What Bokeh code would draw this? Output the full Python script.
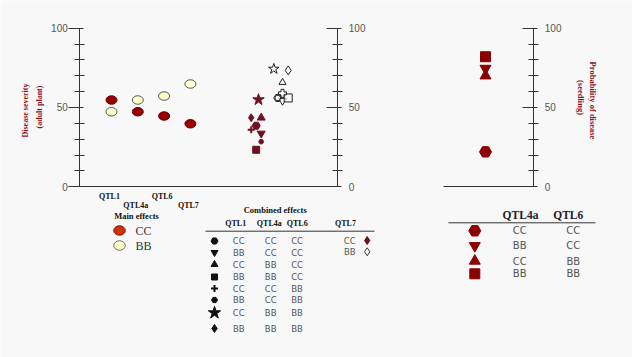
import math
from bokeh.plotting import figure
from bokeh.models import Range1d, LinearAxis, FixedTicker
from bokeh.embed import file_html
from bokeh.resources import INLINE
from bokeh.core.properties import value

# ---------------- data ----------------
main_qtl = ["QTL1", "QTL4a", "QTL6", "QTL7"]
main_cc = [54.7, 47.3, 44.6, 39.7]
main_bb = [47.3, 54.7, 57.2, 64.8]
genotypes = ["CC", "BB"]

comb_markers = ["hex", "inverted_triangle", "triangle", "square", "cross", "hex", "star", "diamond"]
comb_qtl1 = ["CC", "BB", "CC", "BB", "CC", "BB", "CC", "BB"]
comb_qtl4a = ["CC", "CC", "BB", "BB", "CC", "CC", "BB", "BB"]
comb_qtl6 = ["CC", "CC", "CC", "CC", "BB", "BB", "BB", "BB"]
comb_qtl7_cc = [38.5, 33.6, 43.5, 23.3, 36.0, 28.4, 54.9, 43.5]
comb_qtl7_bb = [56.0, 54.3, 65.8, 56.0, 58.9, 56.0, 74.3, 73.4]
comb_headers = ["QTL1", "QTL4a", "QTL6", "QTL7"]

seed_markers = ["hex", "inverted_triangle", "triangle", "square"]
seed_qtl4a = ["CC", "BB", "CC", "BB"]
seed_qtl6 = ["CC", "CC", "BB", "BB"]
seed_prob = [22.0, 74.6, 70.0, 82.0]
seed_headers = ["QTL4a", "QTL6"]

axis_ticks = [0, 50, 100]
axis_minor = [10, 20, 30, 40, 60, 70, 80, 90]

# ---------------- styles ----------------
BG = "#f8f8f8"
AX = "#333333"
DARKRED = "#991111"
CC_MAIN = "#990000"
CC_COMB = "#6e1020"
CC_SEED = "#8b0000"
BB_FILL = "#ffffcc"
SERIF = value("Liberation Serif")
SANS = value("DejaVu Sans")

p = figure(width=632, height=357, x_range=Range1d(0, 632), y_range=Range1d(357, 0),
           x_axis_location=None, y_axis_location=None, toolbar_location=None,
           output_backend="svg", min_border=0, background_fill_color=BG,
           border_fill_color=BG, outline_line_color=None)
p.grid.visible = False
p.extra_y_ranges = {"pct": Range1d(-107.76, 117.48)}


def vaxis(loc, side):
    ax = LinearAxis(y_range_name="pct", fixed_location=loc, bounds=(0, 100),
                    ticker=FixedTicker(ticks=axis_ticks, minor_ticks=axis_minor))
    ax.axis_line_color = AX
    ax.major_tick_line_color = AX
    ax.minor_tick_line_color = AX
    ax.major_label_text_font = "Liberation Sans"
    ax.major_label_text_font_size = "10px"
    ax.major_label_text_color = "#555555"
    ax.minor_tick_in = 5
    ax.minor_tick_out = 5
    if side == "left":
        ax.major_tick_out = 11
        ax.major_tick_in = 4
        ax.major_label_standoff = 1
    else:
        ax.major_tick_out = 4
        ax.major_tick_in = 11
        ax.major_label_standoff = 6
    p.add_layout(ax, side)


def haxis(x0, x1):
    ax = LinearAxis(y_range_name="pct", fixed_location=0, bounds=(x0, x1),
                    ticker=FixedTicker(ticks=[]))
    ax.axis_line_color = AX
    ax.major_tick_line_color = None
    ax.minor_tick_line_color = None
    ax.major_label_text_font_size = "0px"
    p.add_layout(ax, "below")


vaxis(79.3, "left")
vaxis(337.3, "right")
vaxis(533.3, "right")
haxis(68, 337.3)
haxis(443, 533.3)

# ---------------- main effects ----------------
cat_x = [111 + i * 26.3 for i in range(len(main_qtl))]
p.ellipse(x=cat_x, y=main_bb, width=11, height=8.5, width_units="screen", height_units="screen",
          fill_color=BB_FILL, line_color="#555555", y_range_name="pct")
p.ellipse(x=cat_x, y=main_cc, width=11, height=8.5, width_units="screen", height_units="screen",
          fill_color=CC_MAIN, line_color="#660000", y_range_name="pct")
lab_y = [195.7, 204.5, 195.7, 205.3]
p.text(x=[cx - 2 for cx in cat_x], y=lab_y, text=main_qtl, text_font=SERIF, text_font_style="bold",
       text_font_size="8px", text_align="center", text_baseline="middle", text_color="#111111")
p.text(x=[136], y=[215.7], text=["Main effects"], text_font=SERIF, text_font_style="bold",
       text_font_size="8.5px", text_align="center", text_baseline="middle", text_color="#111111")
leg_y = [230, 245]
p.ellipse(x=[119, 119], y=leg_y, width=11.5, height=9.5, width_units="screen", height_units="screen",
          fill_color=["#cc3300", BB_FILL], line_color=["#881100", "#666666"])
p.text(x=[135, 135], y=leg_y, text=genotypes, text_font=SERIF, text_font_size="12px",
       text_align="left", text_baseline="middle", text_color="#333333")

# axis titles
p.text(x=[25, 39], y=[110, 106.5], text=["Disease severity", "(adult plant)"], angle=math.pi / 2,
       text_font=SERIF, text_font_style="bold", text_font_size="8px", text_align="center",
       text_baseline="middle", text_color=DARKRED)
p.text(x=[592.5, 580], y=[100, 97], text=["Probability of disease", "(seedling)"], angle=-math.pi / 2,
       text_font=SERIF, text_font_style="bold", text_font_size="8.5px", text_align="center",
       text_baseline="middle", text_color=DARKRED)

# ---------------- combined effects ----------------
cc_dx = [0, 5, 5, 0, -5, 5, 2.3, -5]
bb_dx = [-4.7, 0, 0, 5.7, 0, -4.7, -8.7, 5.7]
cc_size = [8, 8, 8, 7, 7, 5, 12, 8]
bb_size = [8, 8, 7, 8, 8, 6, 11, 9]
for i, m in enumerate(comb_markers):
    p.scatter(x=[255.7 + cc_dx[i]], y=[comb_qtl7_cc[i]], marker=m, size=cc_size[i],
              fill_color=CC_COMB, line_color=CC_COMB, line_width=2 if m == "cross" else 1,
              y_range_name="pct")
    p.scatter(x=[282 + bb_dx[i]], y=[comb_qtl7_bb[i]], marker=("plus" if m == "cross" else m),
              size=bb_size[i], fill_color="white", fill_alpha=0.6, line_color="#222222",
              y_range_name="pct")

p.text(x=[274.7], y=[209.3], text=["Combined effects"], text_font=SERIF, text_font_style="bold",
       text_font_size="8.5px", text_align="center", text_baseline="middle", text_color="#111111")
p.text(x=[235.2, 268.8, 296.7, 345], y=[223.3] * 4, text=comb_headers, text_font=SERIF,
       text_font_style="bold", text_font_size="8px", text_align="center", text_baseline="middle",
       text_color="#111111")
p.segment(x0=[205], y0=[230.7], x1=[374], y1=[230.7], line_color=AX, line_width=1)
row_y = [240.5, 252, 264, 276.5, 288, 299.5, 312.3, 328]
tab_size = [7, 7, 7, 6, 7, 6, 13, 8]
for i, m in enumerate(comb_markers):
    p.scatter(x=[214], y=[row_y[i]], marker=m, size=tab_size[i], fill_color="#111111",
              line_color="#111111", line_width=2 if m == "cross" else 1)
for cx, col in zip([238.3, 270.2, 296.6], [comb_qtl1, comb_qtl4a, comb_qtl6]):
    p.text(x=[cx] * len(col), y=row_y, text=col, text_font=SANS, text_font_size="8.5px",
           text_align="center", text_baseline="middle", text_color="#555555")
p.text(x=[349.3, 349.3], y=[240, 251.3], text=genotypes, text_font=SANS, text_font_size="8.5px",
       text_align="center", text_baseline="middle", text_color="#555555")
p.scatter(x=[366.7, 366.7], y=[240, 251.3], marker="diamond", size=8,
          fill_color=[CC_COMB, "white"], line_color=[CC_COMB, "#333333"])

# ---------------- seedling ----------------
seed_size = [12, 11, 11, 10]
for i, m in enumerate(seed_markers):
    p.scatter(x=[485], y=[seed_prob[i]], marker=m, size=seed_size[i], fill_color=CC_SEED,
              line_color=CC_SEED, y_range_name="pct")
p.text(x=[520, 567.7], y=[214, 214], text=seed_headers, text_font=SERIF, text_font_style="bold",
       text_font_size="11.5px", text_align="center", text_baseline="middle", text_color="#222222")
p.segment(x0=[448], y0=[222.3], x1=[595], y1=[222.3], line_color=AX, line_width=1)
seed_row_y = [230.3, 245.3, 260.5, 273.3]
for i, m in enumerate(seed_markers):
    p.scatter(x=[474.3], y=[seed_row_y[i]], marker=m, size=seed_size[i], fill_color=CC_SEED,
              line_color=CC_SEED)
for cx, col in zip([519.2, 572.8], [seed_qtl4a, seed_qtl6]):
    p.text(x=[cx] * len(col), y=seed_row_y, text=col, text_font=SANS, text_font_size="10px",
           text_align="center", text_baseline="middle", text_color="#555555")

open("out.html", "w").write(file_html(p, INLINE))
